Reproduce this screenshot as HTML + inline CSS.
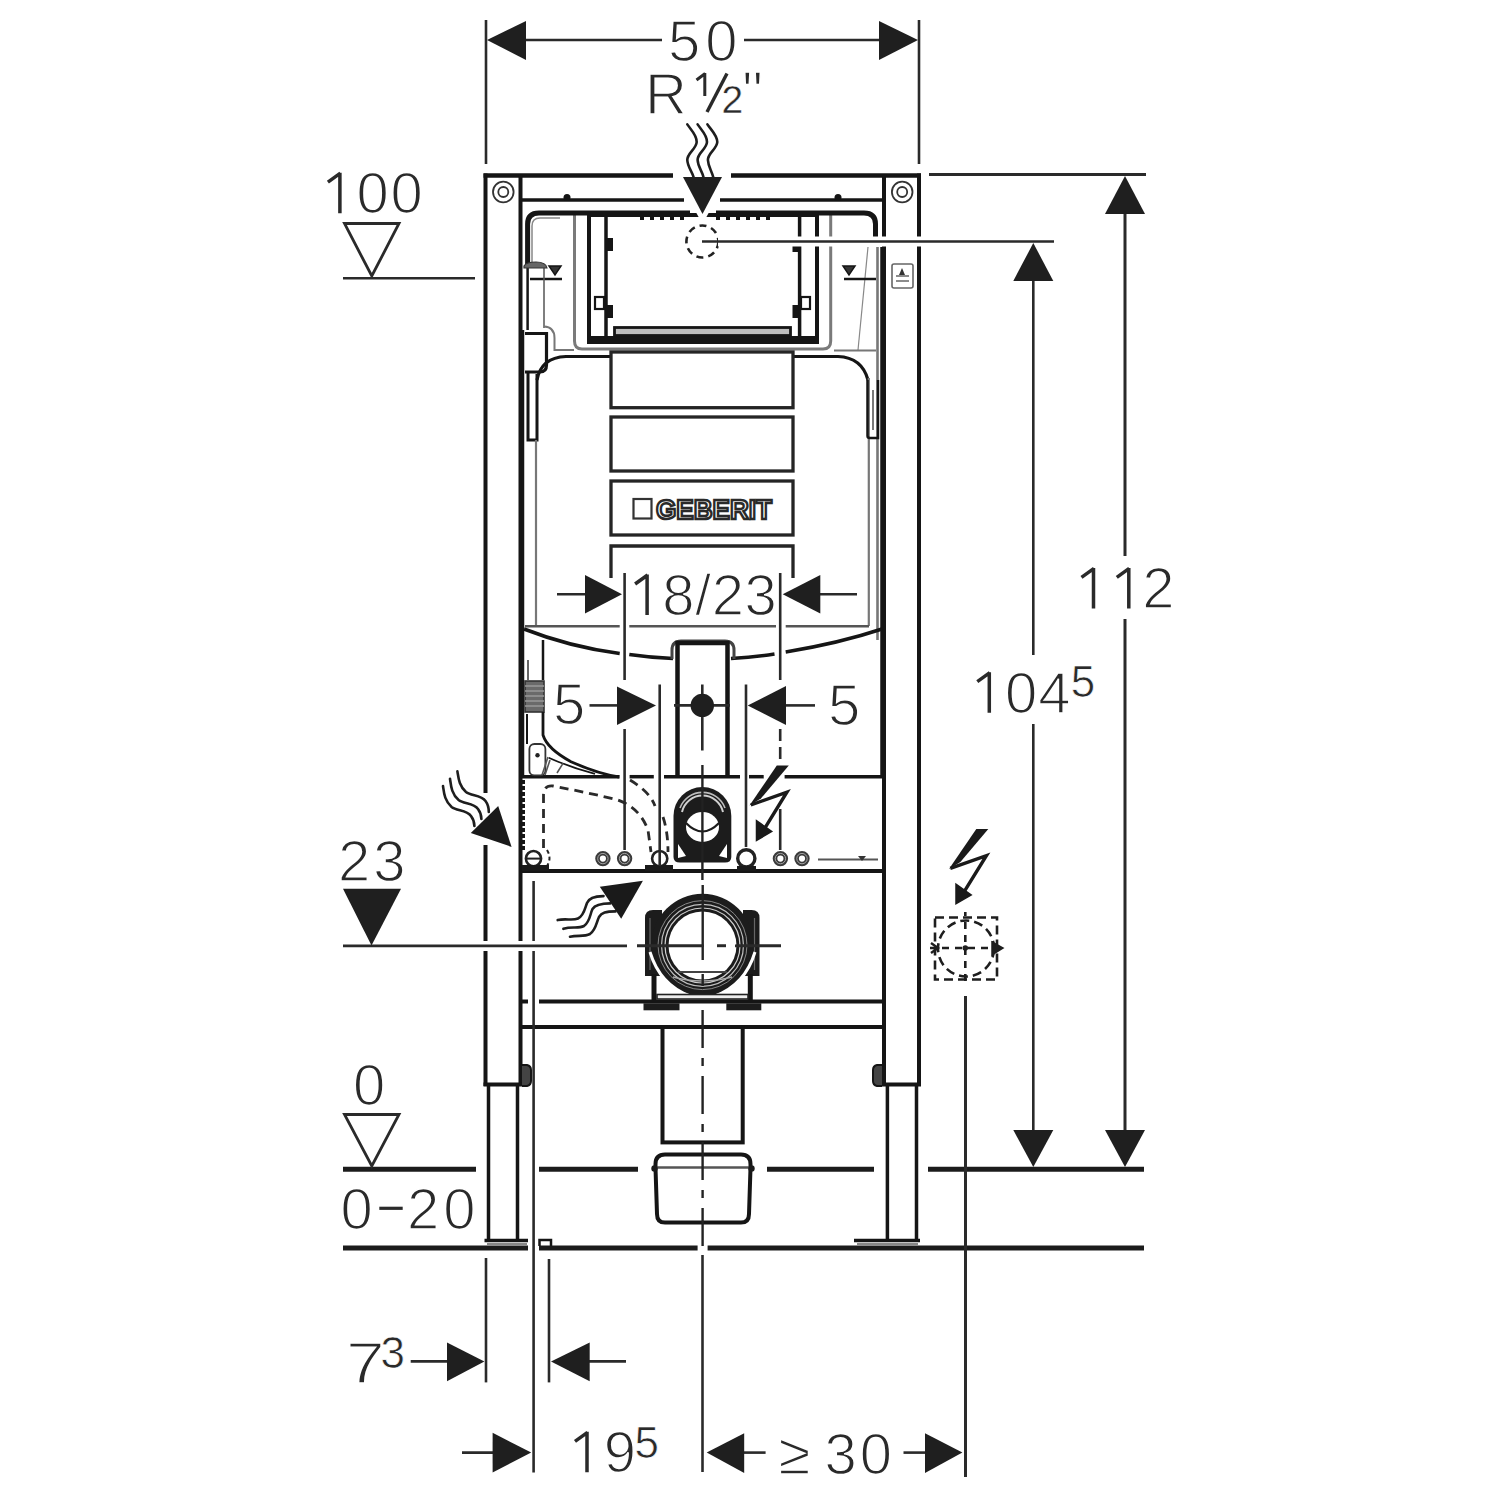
<!DOCTYPE html>
<html><head><meta charset="utf-8"><title>Geberit installation frame</title>
<style>
html,body{margin:0;padding:0;background:#fff;width:1496px;height:1496px;overflow:hidden}
svg{display:block}
.h{fill:none;stroke:none}
.t{font-family:"Liberation Sans",sans-serif;fill:#2a2a2a;stroke:#fff;stroke-width:1.5px;paint-order:normal}
</style></head>
<body>
<svg width="1496" height="1496" viewBox="0 0 1496 1496">
<rect width="1496" height="1496" fill="#fff"/>
<!-- FRAME -->
<g id="frame" stroke="#151515" stroke-width="4" fill="none">
<line x1="483.5" y1="175.5" x2="673" y2="175.5" stroke-width="4.5"/>
<line x1="731" y1="175.5" x2="921" y2="175.5" stroke-width="4.5"/>
<line x1="485.5" y1="173.5" x2="485.5" y2="1086"/>
<line x1="520.5" y1="175" x2="520.5" y2="1086"/>
<line x1="523" y1="330" x2="523" y2="776" stroke-width="2.5"/>
<line x1="523.5" y1="780" x2="523.5" y2="852" stroke-width="3" stroke-dasharray="4 2"/>
<line x1="483.5" y1="1084.5" x2="522.5" y2="1084.5"/>
<line x1="488.5" y1="1084" x2="488.5" y2="1240" stroke-width="3.5"/>
<line x1="517.5" y1="1084" x2="517.5" y2="1240" stroke-width="3.5"/>
<line x1="484.5" y1="1240.5" x2="528" y2="1240.5" stroke-width="3.5"/>
<line x1="919" y1="173.5" x2="919" y2="1086"/>
<line x1="884" y1="175" x2="884" y2="1086"/>
<line x1="881.5" y1="247" x2="881.5" y2="776" stroke-width="2.5"/>
<line x1="882" y1="1084.5" x2="921" y2="1084.5"/>
<line x1="887.4" y1="1084" x2="887.4" y2="1240" stroke-width="3.5"/>
<line x1="916.5" y1="1084" x2="916.5" y2="1240" stroke-width="3.5"/>
<line x1="854" y1="1240.5" x2="920" y2="1240.5" stroke-width="3.5"/>
<!-- feet bottoms -->
<line x1="487" y1="1244" x2="527" y2="1244" stroke="#888" stroke-width="2"/>
<line x1="857" y1="1244" x2="918" y2="1244" stroke="#888" stroke-width="2"/>
<path d="M539.5 1246 L539.5 1240 L551 1240 L551 1246" stroke-width="2.5"/>
<!-- brackets on columns -->
<path d="M522 1065 L527 1065 Q531 1066 531 1070 L531 1081 Q531 1085 527 1086 L522 1086" fill="#444" stroke-width="2"/>
<path d="M882 1065 L877 1065 Q873 1066 873 1070 L873 1081 Q873 1085 877 1086 L882 1086" fill="#444" stroke-width="2"/>
<!-- horizontal bars -->
<line x1="520" y1="200" x2="684" y2="200" stroke-width="3.5"/>
<line x1="720" y1="200" x2="884" y2="200" stroke-width="3.5"/>
<circle cx="567" cy="197.5" r="3.5" fill="#151515" stroke="none"/>
<circle cx="838" cy="197.5" r="3.5" fill="#151515" stroke="none"/>
<g stroke-width="3.5">
<line x1="522" y1="776.7" x2="619.6" y2="776.7"/>
<line x1="629.6" y1="776.7" x2="653.8" y2="776.7"/>
<line x1="664" y1="776.7" x2="740" y2="776.7"/>
<line x1="749" y1="776.7" x2="763.7" y2="776.7"/>
<line x1="784.6" y1="776.7" x2="884" y2="776.7"/>
</g>
<line x1="522" y1="871" x2="884" y2="871"/>
<line x1="521" y1="1001.5" x2="528" y2="1001.5"/>
<line x1="539" y1="1001.5" x2="884" y2="1001.5"/>
<line x1="521" y1="1027" x2="884" y2="1027"/>
</g>
<g stroke="#fff" fill="none">
<line x1="470" y1="945.9" x2="627" y2="945.9" stroke-width="10"/>
<line x1="485.5" y1="793" x2="485.5" y2="845" stroke-width="8"/>
</g>
<!-- bolts -->
<g fill="none" stroke="#333" stroke-width="1.8">
<circle cx="503.3" cy="192" r="10.3"/><circle cx="503.3" cy="192" r="5"/>
<circle cx="902.2" cy="192" r="10.3"/><circle cx="902.2" cy="192" r="5"/>
</g>
<g id="cistern" fill="none" stroke="#151515" stroke-linecap="butt">
<!-- outer gray window surround -->
<path d="M574.5 214 L574.5 341 Q574.5 349 582 349 L823 349 Q830.7 349 830.7 341 L830.7 214" stroke="#7a7a7a" stroke-width="3"/>
<!-- thick top band -->
<path d="M527.6 266 L527.6 224 Q527.6 213 539 213 L690 213" stroke-width="5"/>
<path d="M716 213 L864 213 Q875.5 213 875.5 224 L875.5 237" stroke-width="5"/>
<path d="M532 266 L532 226 Q532 218 540 218 L560 218" stroke="#888" stroke-width="1.5"/>
<!-- window frame -->
<rect x="589" y="215" width="228" height="127" stroke-width="4"/>
<line x1="589" y1="340" x2="817" y2="340" stroke-width="8"/>
<line x1="606" y1="217" x2="606" y2="338" stroke-width="3.5"/>
<line x1="799.6" y1="217" x2="799.6" y2="338" stroke-width="3.5"/>
<rect x="614.5" y="327.5" width="176" height="8" fill="#bdbdbd" stroke-width="2.8"/>
<line x1="640" y1="218.5" x2="690" y2="218.5" stroke-width="3" stroke-dasharray="4 6"/>
<line x1="716" y1="218.5" x2="770" y2="218.5" stroke-width="3" stroke-dasharray="4 6"/>
<g fill="#151515" stroke="none">
<rect x="607" y="238" width="6" height="13"/><rect x="607" y="305" width="6" height="13"/>
<rect x="792.5" y="243" width="6" height="9"/><rect x="792.5" y="305" width="6" height="13"/>
</g>
<rect x="595" y="297" width="9" height="12" stroke-width="2.2"/>
<rect x="801" y="297" width="9" height="12" stroke-width="2.2"/>
<!-- dashed circle at R1/2 -->
<circle cx="702.4" cy="241.5" r="16" stroke="#222" stroke-width="2.6" stroke-dasharray="7 5"/>
<!-- right side verticals near column -->
<line x1="877.5" y1="247" x2="877.5" y2="640" stroke="#777" stroke-width="2.6"/>

<line x1="868" y1="247" x2="858" y2="350" stroke="#888" stroke-width="1.2"/>
<!-- level marks -->
<line x1="530" y1="279" x2="562" y2="279" stroke-width="2.5"/>
<path d="M549 266 L561 266 L555 275 Z" fill="#333" stroke-width="1.5"/>
<line x1="844" y1="279" x2="876" y2="279" stroke-width="2.5"/>
<path d="M843 266 L855 266 L849 275 Z" fill="#333" stroke-width="1.5"/>
<rect x="892" y="264" width="21" height="24" rx="2" stroke="#666" stroke-width="1.6"/>
<path d="M896 276 L909 276 M896 281 L909 281" stroke="#666" stroke-width="1.5"/>
<path d="M899 275 L902 268 L905 275 Z" fill="#333" stroke="none"/>
<!-- left fill-valve tube -->
<line x1="527.6" y1="266" x2="527.6" y2="330" stroke-width="2.5"/>
<line x1="544" y1="266" x2="544" y2="328" stroke="#555" stroke-width="1.5"/>
<path d="M525 333.5 L546.5 333.5 L546.5 365 Q546.5 372 540 372 L525 372" stroke-width="3.2"/>
<path d="M524 266 Q526 262 536 262 Q546 262 547 268 L524 268 Z" fill="#666" stroke="#333" stroke-width="1.2"/>
<path d="M528 372 L528 440 L537 440 L537 374" stroke-width="3"/>
<line x1="536" y1="440" x2="536" y2="627" stroke="#777" stroke-width="2.2"/>
<!-- cistern top -->
<path d="M537 380 Q541 357.5 566 356.5 L611 356.5 M793 356.5 L838 356.5 Q862 357.5 868 380" stroke-width="3.2"/>
<path d="M544 326.5 Q554.5 327 554.5 338 L554.5 350 L574 350" stroke="#777" stroke-width="2"/>
<line x1="834" y1="350.5" x2="876" y2="350.5" stroke="#777" stroke-width="2"/>
<line x1="868.8" y1="378" x2="868.8" y2="626" stroke="#777" stroke-width="2.2"/>
<path d="M867.5 380 L867.5 436 Q867.5 438 870 438 L878 438 L878 380" stroke-width="2.5"/>
<line x1="873" y1="390" x2="873" y2="430" stroke="#777" stroke-width="2"/>
<!-- button plate -->
<g stroke="#252525" stroke-width="3.3">
<rect x="611" y="352" width="182" height="55.7"/>
<rect x="611" y="417" width="182" height="54"/>
<rect x="611" y="481" width="182" height="54"/>
<path d="M611 578 L611 546 L793 546 L793 578"/>
</g>
<!-- geberit logo -->
<rect x="633.5" y="499" width="18" height="19.5" stroke="#333" stroke-width="2.2"/>
<text x="656" y="519" font-family="Liberation Sans" font-weight="bold" font-size="28" textLength="116" lengthAdjust="spacingAndGlyphs" fill="#fff" stroke="#2a2a2a" stroke-width="2.5">GEBERIT</text>
<!-- gray line + bottom curve -->
<g stroke="#555" stroke-width="2.4">
<line x1="525" y1="626.3" x2="619.7" y2="626.3"/>
<line x1="629.3" y1="626.3" x2="776" y2="626.3"/>
<line x1="785.7" y1="626.3" x2="869" y2="626.3"/>
</g>
<path d="M524 629 Q570 647 619.7 653.5 M629.3 654.5 Q650 657.5 673 658.6" stroke-width="3.5"/>
<path d="M731 658.6 Q755 657 774.5 654 M785.7 652 Q840 643 882 629" stroke-width="3.5"/>
<!-- flush pipe -->
<path d="M672 659 L672 650 Q672 641 681 641 L725 641 Q734 641 734 650 L734 659" stroke="#444" stroke-width="3"/>
<path d="M677.5 776 L677.5 643 L727.5 643 L727.5 776" stroke-width="4.5"/>
<!-- hose -->
<rect x="525" y="681" width="19" height="31" fill="#6a6a6a" stroke="#333" stroke-width="1.6"/>
<path d="M525 686 L544 686 M525 691 L544 691 M525 696 L544 696 M525 701 L544 701 M525 706 L544 706" stroke="#999" stroke-width="1.3"/>
<line x1="528" y1="660" x2="528" y2="680" stroke="#666" stroke-width="2"/>
<line x1="543" y1="640" x2="543" y2="680" stroke-width="2.5"/>
<path d="M543 712 L543 735 C546 745 555 753 571 761.7 C585 768 600 774 619 777" stroke-width="2.8"/>
<path d="M548.7 757.7 C565 765 580 770 595 773.8" stroke-width="1.8"/>
<rect x="529.4" y="744" width="16" height="31.4" rx="5" stroke="#333" stroke-width="1.8"/>
<circle cx="537.5" cy="755.3" r="2.2" fill="#222" stroke="none"/>
<line x1="527" y1="714" x2="527" y2="744" stroke-width="2"/>
<path d="M542 775 L548 757 M545 775 L550 760 M557 773 L563 763.4" stroke="#555" stroke-width="1.6"/>
</g>
<g id="lower" fill="none" stroke="#151515">
<!-- dashed hidden pipes -->
<g stroke="#2a2a2a" stroke-width="2.8" stroke-dasharray="9 6">
<path d="M543.5 848 L543.5 795 Q543.5 785 553 786 Q590 793 618 800 Q640 808 648 830 L651 852"/>
<path d="M630 780 Q650 792 655 806 M663 817 Q668 832 668 852"/>
</g>
<!-- small fittings on bar y=858 -->
<g stroke="#222" stroke-width="2.6">
<circle cx="533.5" cy="858.6" r="7.6"/>
<line x1="526" y1="858.6" x2="541" y2="858.6" stroke-width="2"/>
<path d="M547 850 Q552 858 547 866" stroke-dasharray="4 3" stroke-width="2"/>
<circle cx="659.7" cy="858.6" r="7.6"/>
<circle cx="746.3" cy="858.4" r="8.6" stroke-width="3.4"/>
</g>
<g stroke="#3a3a3a" stroke-width="4.6">
<circle cx="602.9" cy="858.6" r="5.4"/><circle cx="624.6" cy="858.6" r="5.4"/>
<circle cx="780.4" cy="858.6" r="5.4"/><circle cx="802" cy="858.6" r="5.4"/>
</g>
<g stroke="#bbb" stroke-width="0.8">
<circle cx="602.9" cy="858.6" r="5.2"/><circle cx="624.6" cy="858.6" r="5.2"/>
<circle cx="780.4" cy="858.6" r="5.2"/><circle cx="802" cy="858.6" r="5.2"/>
</g>
<g fill="#1a1a1a" stroke="none">
<rect x="522" y="865" width="27" height="6"/>
<rect x="645" y="865" width="28" height="6"/>
<rect x="737" y="866" width="19" height="5"/>
</g>
<line x1="818" y1="859.4" x2="878" y2="859.4" stroke="#555" stroke-width="2"/>
<path d="M858 856 L866 856 L862 861 Z" fill="#333" stroke="none"/>
<!-- elbow -->
<path d="M673.5 815.8 A28.9 28.9 0 0 1 731.3 815.8 L731.3 857 Q731.3 862.6 725 862.6 L680 862.6 Q673.5 862.6 673.5 857 Z" fill="#1c1c1c" stroke="none"/>
<path d="M682 812 A21 21 0 0 1 723 812" stroke="#d0d0d0" stroke-width="2"/>
<path d="M680 808 A24 24 0 0 1 725 808" stroke="#bbb" stroke-width="1.6"/>
<ellipse cx="702.5" cy="827" rx="16.5" ry="15" fill="#fff" stroke="none"/>
<path d="M686 823 Q702.5 840 719 823" stroke="#1c1c1c" stroke-width="2.2"/>
<path d="M678 844 L678 858 L686 856 Z" fill="#fff" stroke="none"/>
<path d="M727 844 L727 858 L719 856 Z" fill="#fff" stroke="none"/>
<line x1="702.4" y1="765" x2="702.4" y2="880" stroke="#222" stroke-width="2.4"/>
<!-- big pipe -->
<path d="M645 976 L645 918 Q645 910 653 910 L662 910 L662 976 Z" fill="#1c1c1c" stroke="none"/>
<path d="M759.5 976 L759.5 918 Q759.5 910 751.5 910 L743 910 L743 976 Z" fill="#1c1c1c" stroke="none"/>
<line x1="650" y1="918" x2="650" y2="970" stroke="#666" stroke-width="1.2"/>
<line x1="754.5" y1="918" x2="754.5" y2="970" stroke="#666" stroke-width="1.2"/>
<circle cx="702.5" cy="944.8" r="51" fill="#1c1c1c" stroke="none"/>
<path d="M650 952 Q660 985 690 996" stroke="#fff" stroke-width="3"/>
<path d="M755 952 Q745 985 715 996" stroke="#fff" stroke-width="3"/>
<circle cx="702.5" cy="945.5" r="34" fill="#fff" stroke="none"/>
<circle cx="702.5" cy="945.5" r="37.5" stroke="#d0d0d0" stroke-width="1.2"/>
<circle cx="702.5" cy="945.3" r="41" stroke="#c0c0c0" stroke-width="1.2"/>
<circle cx="702.5" cy="945.1" r="44.5" stroke="#888" stroke-width="1"/>
<path d="M678 972 L727 972" stroke="#444" stroke-width="2"/>
<path d="M673 977 Q702 985 732 977" stroke="#aaa" stroke-width="1.5"/>
<line x1="654" y1="974" x2="654" y2="1000" stroke-width="5"/>
<line x1="750.3" y1="974" x2="750.3" y2="1000" stroke-width="5"/>
<rect x="657" y="994.5" width="91" height="4.5" fill="#eee" stroke="#222" stroke-width="1.6"/>
<rect x="643.5" y="1003.3" width="36" height="7" fill="#1c1c1c" stroke="none"/>
<rect x="726.3" y="1003.3" width="35" height="7" fill="#1c1c1c" stroke="none"/>
<line x1="702.7" y1="885" x2="702.7" y2="960" stroke="#222" stroke-width="2.4"/>
<line x1="702.7" y1="974" x2="702.7" y2="986" stroke="#222" stroke-width="2.4"/>
<g stroke="#2a2a2a" stroke-width="2.6">
<line x1="637" y1="945.7" x2="704" y2="945.7"/>
<line x1="717" y1="945.7" x2="726" y2="945.7"/>
<line x1="736" y1="945.7" x2="781" y2="945.7"/>
</g>
<!-- drain pipe + outlet -->
<rect x="662.5" y="1027" width="80.2" height="115.4" fill="#fff" stroke-width="4"/>
<path d="M655.5 1164 L655.5 1168 L657 1214 Q657 1222.6 665 1222.6 L741 1222.6 Q749 1222.6 749 1214 L750.5 1168 L750.5 1164 Q750.5 1154.4 741 1154.4 L665 1154.4 Q655.5 1154.4 655.5 1164 Z" fill="#fff" stroke-width="4"/>
<line x1="655" y1="1167.5" x2="751" y2="1167.5" stroke="#555" stroke-width="2.5"/>
<circle cx="654.5" cy="1168.5" r="3.2" fill="#1a1a1a" stroke="none"/>
<circle cx="751.5" cy="1168.5" r="3.2" fill="#1a1a1a" stroke="none"/>
<line x1="702.6" y1="1010" x2="702.6" y2="1246" stroke="#222" stroke-width="2.4" stroke-dasharray="38 10 8 10"/>
<!-- electrical box right -->
<g stroke="#1e1e1e" stroke-width="2.6" stroke-dasharray="9 5">
<rect x="935" y="917.5" width="62" height="62"/>
<circle cx="966" cy="948.5" r="28"/>
</g>
<g stroke="#1e1e1e" stroke-width="2.6" stroke-dasharray="7 6">
<line x1="965.3" y1="912" x2="965.3" y2="986" stroke-dashoffset="3"/>
<line x1="930" y1="948" x2="1000" y2="948" stroke-dashoffset="1"/>
</g>
<circle cx="965.3" cy="948" r="2.8" fill="#1e1e1e" stroke="none"/>
<path d="M992 942 L1003 948 L992 955 Z" fill="#1e1e1e" stroke="#1e1e1e" stroke-width="1.5"/>
<path d="M931 943 L938 948 L931 953" stroke="#1e1e1e" stroke-width="2.4"/>
<!-- lightning bolts -->
<g id="bolt" fill="#1a1a1a" stroke="#1a1a1a">
<g transform="translate(976.3 828.9)">
<polygon points="0,0 12,0 -15.9,33 -27.3,40" stroke="none"/>
<path d="M-26 39.5 L10.1 26.7 L-12.1 62.8" fill="none" stroke-width="3.4" stroke-linejoin="miter"/>
<polygon points="-20.3,74.9 -20.3,55.2 -5.1,66" stroke-width="1.5"/>
</g>
<g transform="translate(776.8 765.5)">
<polygon points="0,0 12,0 -15.9,33 -27.3,40" stroke="none"/>
<path d="M-26 39.5 L10.1 26.7 L-12.1 62.8" fill="none" stroke-width="3.4" stroke-linejoin="miter"/>
<polygon points="-20.3,74.9 -20.3,55.2 -5.1,66" stroke-width="1.5"/>
</g>
</g>
</g>
<!-- wavy arrows -->
<g fill="none" stroke="#1e1e1e" stroke-width="2.6" stroke-linecap="round">
<path d="M687.3 124.4 C691 130 697 135 696.7 142 C696.4 149 687 153 687.3 160 C687.6 167 692 171 693.9 178"/>
<path d="M697.6 124.4 C701.3 130 707.3 135 707 142 C706.7 149 697.3 153 697.6 160 C697.9 167 702.3 171 703.7 178"/>
<path d="M707.4 124.4 C711.1 130 717.1 135 717.3 142 C717 149 707.6 153 707.9 160 C708.2 167 712 171 713.5 178"/>
<path d="M457.4 771.4 C458.5 778 459 786 466 792 C471 796 481 795 485.5 801 C488.5 805 488.8 808 488.8 812"/>
<path d="M450 778.7 C451 786 451.6 794 458.6 800 C463.6 804 473.6 803 478 809 C481 813 481.4 815 481.4 819"/>
<path d="M443 786 C444 793 444.6 801 451.6 807 C456.6 811 466.6 810 471 816 C474 820 474.4 822.6 474.4 826"/>
<path d="M557.7 920.1 C566 918 572 921 578 918.5 C584 916 585 908 587 903 C589 898 594 896 603.5 896.1"/>
<path d="M563.4 928.8 C572 926 578 929 584 926 C590 922 590 914 592.5 909 C595 905 600 903.5 610.2 903.4"/>
<path d="M570 936.8 C578 935 584 937 590 934 C596 930 596.5 922 599 917 C601.5 912.5 606 911.5 615.5 911.4"/>
</g>
<g fill="#1a1a1a" stroke="none">
<polygon points="511.6,846.9 470.8,832.9 498.2,806.1"/>
<polygon points="642.9,880.7 599.8,886.7 621.2,918.8"/>
</g>
<!-- halos -->
<g stroke="#fff" fill="none">
<line x1="718" y1="241.5" x2="1054" y2="241.5" stroke-width="10"/>
<polygon points="677,178 728,178 702.5,224" fill="#fff" stroke="none"/>
</g>
<g id="dims" stroke="#2a2a2a" stroke-width="2.6" fill="none">
<!-- 50 -->
<line x1="486" y1="20" x2="486" y2="164"/>
<line x1="919" y1="20" x2="919" y2="164"/>
<line x1="520" y1="40" x2="662" y2="40"/>
<line x1="744" y1="40" x2="885" y2="40"/>
<!-- 112 -->
<line x1="929" y1="174.5" x2="1146" y2="174.5" stroke-width="3"/>
<line x1="1125" y1="205" x2="1125" y2="556" stroke-width="3"/>
<line x1="1125" y1="619" x2="1125" y2="1135" stroke-width="3"/>
<!-- 104.5 -->
<line x1="702" y1="241.5" x2="1054" y2="241.5"/>
<line x1="1033.3" y1="275" x2="1033.3" y2="655"/>
<line x1="1033.3" y1="724" x2="1033.3" y2="1135"/>
<!-- left level lines -->
<line x1="343" y1="278.3" x2="475" y2="278.3"/>
<line x1="343" y1="945.9" x2="627" y2="945.9"/>
<line x1="637" y1="945.9" x2="702" y2="945.9"/>
<line x1="717" y1="945.9" x2="726" y2="945.9"/>
<line x1="735" y1="945.9" x2="781" y2="945.9"/>
<!-- floor and bottom lines -->
<g stroke-width="5" stroke="#1c1c1c">
<line x1="343" y1="1169.3" x2="476" y2="1169.3"/>
<line x1="539" y1="1169.3" x2="638" y2="1169.3"/>
<line x1="767" y1="1169.3" x2="874" y2="1169.3"/>
<line x1="928" y1="1169.3" x2="1144" y2="1169.3"/>
<line x1="343" y1="1248" x2="528" y2="1248"/>
<line x1="539" y1="1248" x2="697.6" y2="1248"/>
<line x1="707.6" y1="1248" x2="1144" y2="1248"/>
</g>
<!-- 18/23 -->
<line x1="557" y1="594.3" x2="590" y2="594.3"/>
<line x1="815" y1="594.3" x2="857" y2="594.3"/>
<line x1="624.6" y1="573" x2="624.6" y2="680"/>
<line x1="624.6" y1="729" x2="624.6" y2="850"/>
<line x1="780.2" y1="573" x2="780.2" y2="680"/>
<line x1="780.2" y1="729" x2="780.2" y2="760" stroke-dasharray="12 6"/>
<line x1="780.2" y1="809" x2="780.2" y2="850"/>
<!-- 5 / 5 -->
<line x1="589.5" y1="705.4" x2="620" y2="705.4"/>
<line x1="783" y1="705.4" x2="815" y2="705.4"/>
<line x1="659.7" y1="684.5" x2="659.7" y2="866"/>
<line x1="746" y1="684.5" x2="746" y2="847"/>
<line x1="674" y1="705.4" x2="730" y2="705.4"/>
<line x1="702.3" y1="684.5" x2="702.3" y2="750.5"/>
<!-- bottom dims -->
<line x1="486" y1="1258" x2="486" y2="1382.4"/>
<line x1="549" y1="1259" x2="549" y2="1382.4"/>
<line x1="533.6" y1="881" x2="533.6" y2="941"/>
<line x1="533.6" y1="951" x2="533.6" y2="1472.5"/>
<line x1="702.5" y1="1255" x2="702.5" y2="1472"/>
<line x1="965.5" y1="996" x2="965.5" y2="1477" stroke-width="3"/>
<line x1="410.7" y1="1361.4" x2="450" y2="1361.4"/>
<line x1="586" y1="1361.4" x2="626" y2="1361.4"/>
<line x1="462" y1="1452.6" x2="495" y2="1452.6"/>
<line x1="740" y1="1452.6" x2="765.6" y2="1452.6"/>
<line x1="903.5" y1="1452.6" x2="928" y2="1452.6"/>
</g>
<g id="arrows" fill="#1f1f1f" stroke="none">
<polygon points="487,40 526,21 526,60"/>
<polygon points="918,40 879,21 879,60"/>
<polygon points="683,177 722,177 702.5,214"/>
<polygon points="1125,176 1105,214 1145,214"/>
<polygon points="1125,1167 1105,1130 1145,1130"/>
<polygon points="1033.3,243 1013.3,281 1053.3,281"/>
<polygon points="1033.3,1167 1013.3,1130 1053.3,1130"/>
<polygon points="622,594.3 585,575 585,613.5"/>
<polygon points="782.7,594.3 820.3,575 820.3,613.5"/>
<polygon points="656,705.4 617,686.5 617,725"/>
<polygon points="747.7,705.4 786,686 786,725"/>
<polygon points="343,888.8 401,888.8 371.5,945.4"/>
<polygon points="484.4,1361.4 447,1342.6 447,1381.2"/>
<polygon points="551,1361.4 589.7,1342.6 589.7,1381.2"/>
<polygon points="531.2,1452.6 492.6,1432.7 492.6,1472.5"/>
<polygon points="706.7,1452.6 744.2,1433.3 744.2,1472.9"/>
<polygon points="962.4,1452.6 925,1433.3 925,1472.9"/>
<circle cx="702.3" cy="705.4" r="11.7"/>
</g>
<g id="open-tri" fill="none" stroke="#2a2a2a" stroke-width="2.8" stroke-linejoin="miter">
<polygon points="344.5,223.5 399,223.5 371.8,276"/>
<polygon points="344.5,1114.5 399,1114.5 371.8,1166"/>
</g>
<!--FRAME-->
<g id="texts" class="t" font-size="58">
<text x="668" y="61" letter-spacing="5">50</text>
<text x="645" y="114">R</text>

<text x="721.5" y="113.2" font-size="39" style="stroke-width:0.4px">2</text>
<text x="742.3" y="112">"</text>
<text x="322.4" y="213.2" letter-spacing="1.8"><tspan class="h">1</tspan>00</text>
<text x="338" y="881" letter-spacing="3">23</text>
<text x="353" y="1104.5">0</text>
<text x="340.4" y="1229">0</text>
<text x="407" y="1229" letter-spacing="4">20</text>
<text x="629.6" y="615" letter-spacing="0.5"><tspan class="h">1</tspan>8/23</text>
<text x="553" y="724">5</text>
<text x="828" y="725">5</text>
<text x="1076" y="608.4" letter-spacing="3"><tspan class="h">11</tspan>2</text>
<text x="971.8" y="712.7" letter-spacing="1"><tspan class="h">1</tspan>04</text>
<text x="1070.7" y="697" font-size="44" style="stroke-width:0.7px">5</text>
<text transform="translate(346 1383) scale(1.2 1)" x="0" y="0">7</text>
<text x="380.5" y="1368.2" font-size="44" style="stroke-width:0.7px">3</text>
<text x="569.5" y="1472.3" letter-spacing="2"><tspan class="h">1</tspan>9</text>
<text x="634.4" y="1458.2" font-size="44" style="stroke-width:0.7px">5</text>
<text x="778.6" y="1473.8">≥</text>
<text x="824.6" y="1473.9" letter-spacing="3">30</text>
</g>
<path d="M339.9 172.7 L339.9 213.2 M340.4 173.2 L327.9 182.2 M647.1 574.5 L647.1 615.0 M647.6 575.0 L635.1 584.0 M1093.5 567.9 L1093.5 608.4 M1094.0 568.4 L1081.5 577.4 M1128.8 567.9 L1128.8 608.4 M1129.2 568.4 L1116.8 577.4 M989.3 672.2 L989.3 712.7 M989.8 672.7 L977.3 681.7 M587.0 1431.8 L587.0 1472.3 M587.5 1432.3 L575.0 1441.3" stroke="#2a2a2a" stroke-width="3.5" fill="none"/>
<path d="M704.8 73 L704.8 96 M705.2 73.5 L696.5 80" stroke="#2a2a2a" stroke-width="3" fill="none"/>
<line x1="379.3" y1="1208.3" x2="402.7" y2="1208.3" stroke="#2a2a2a" stroke-width="3.2"/>
<line x1="707" y1="112" x2="727" y2="73.5" stroke="#2a2a2a" stroke-width="3.4"/>
</svg>
</body></html>
